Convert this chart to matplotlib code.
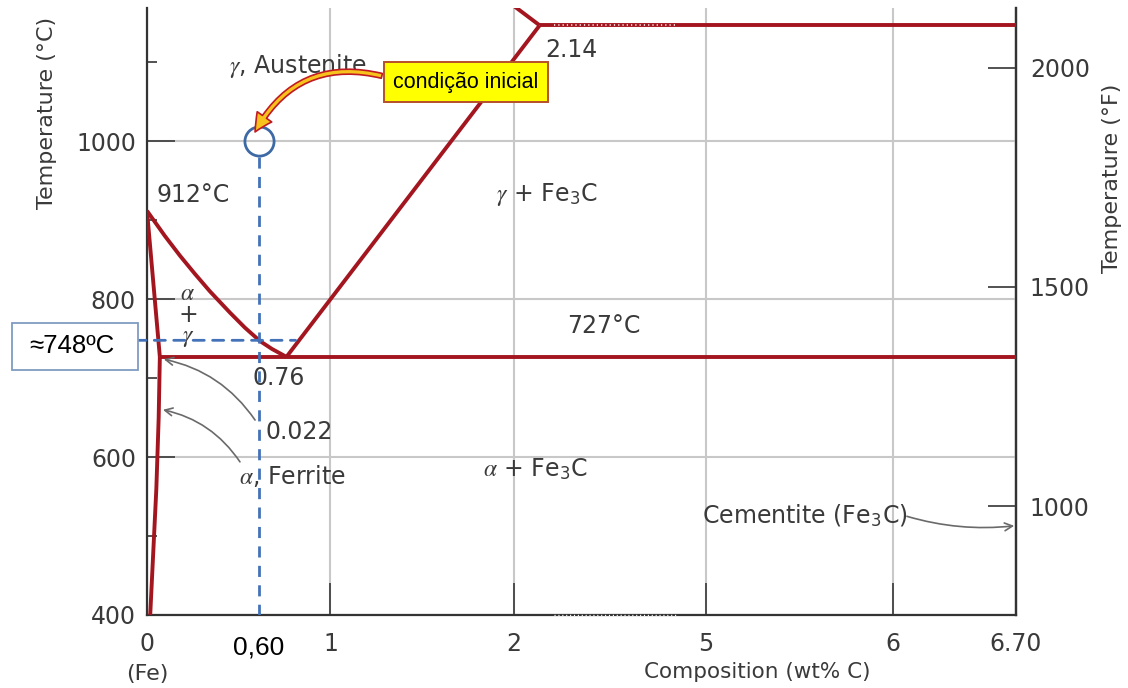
import numpy as np
import matplotlib
matplotlib.use("Agg")
import matplotlib.pyplot as plt
from matplotlib.patches import Rectangle

plt.rcParams["font.family"] = ["DejaVu Sans"]
plt.rcParams["mathtext.fontset"] = "stix"

# ---- phase boundaries (composition wt% C, temperature °C) ----
alpha_gamma_comp = [0.0, 0.022]
alpha_gamma_temp = [912, 727]

ferrite_solvus_comp = [0.022, 0.020, 0.016, 0.0055]
ferrite_solvus_temp = [727, 650, 560, 400]

a3_comp = [0.0, 0.052, 0.140, 0.227, 0.314, 0.431, 0.518, 0.606, 0.676, 0.76]
a3_temp = [912, 880, 855, 832, 810, 783, 764, 747, 737, 727]

acm_comp = [0.76, 2.14]
acm_temp = [727, 1147]

solidus_comp = [2.14, 1.90]
solidus_temp = [1147, 1189]

eutectoid_comp = [0.022, 6.70]
eutectoid_temp = [727, 727]

eutectic_comp = [2.14, 6.70]
eutectic_temp = [1147, 1147]

# ---- alloy of interest ----
alloy_comp = 0.60
start_temp = 1000
transform_temp = 748

# ---- axis ticks ----
x_ticks = [0, 1, 2, 5, 6, 6.70]
x_tick_labels = ["0", "1", "2", "5", "6", "6.70"]
y_major = [400, 600, 800, 1000]
y_minor = [500, 700, 900, 1100]
f_ticks = [1000, 1500, 2000]

# composition axis is stretched near pure iron and compressed over 2.2-5 wt%
COMP_KNOTS = np.array([0.0, 0.022, 0.76, 2.20, 5.0, 6.0, 6.70])
POS_KNOTS = np.array([0.0, 0.070, 0.76, 2.20, 3.046, 4.065, 4.736])


def _piecewise(v, xs, ys):
    v = np.asarray(v, dtype=float)
    out = np.interp(v, xs, ys)
    lo_slope = (ys[1] - ys[0]) / (xs[1] - xs[0])
    hi_slope = (ys[-1] - ys[-2]) / (xs[-1] - xs[-2])
    out = np.where(v < xs[0], ys[0] + (v - xs[0]) * lo_slope, out)
    out = np.where(v > xs[-1], ys[-1] + (v - xs[-1]) * hi_slope, out)
    return out


def comp_to_pos(v):
    return _piecewise(v, COMP_KNOTS, POS_KNOTS)


def pos_to_comp(v):
    return _piecewise(v, POS_KNOTS, COMP_KNOTS)


def c_to_f(t):
    return np.asarray(t, dtype=float) * 9.0 / 5.0 + 32.0


def f_to_c(t):
    return (np.asarray(t, dtype=float) - 32.0) * 5.0 / 9.0


RED = "#a3161f"
BLUE = "#4472b8"
GRID = "#c8c8c8"
SPINE = "#333333"
TXT = "#3a3a3a"

fig = plt.figure(figsize=(11.28, 6.88), dpi=100)
ax = fig.add_axes([147 / 1128, 1 - 615 / 688, 869 / 1128, 607 / 688])
ax.set_xscale("function", functions=(comp_to_pos, pos_to_comp))
ax.set_xlim(0, 6.70)
ax.set_ylim(400, 1169)

# grid and frame
ax.set_xticks(x_ticks)
ax.set_xticklabels(x_tick_labels)
ax.set_yticks(y_major)
ax.set_yticks(y_minor, minor=True)
ax.xaxis.set_minor_locator(matplotlib.ticker.NullLocator())
ax.grid(True, which="major", color=GRID, lw=1.5, zorder=0)
ax.set_axisbelow(True)
for side in ("left", "bottom", "right"):
    ax.spines[side].set_color(SPINE)
    ax.spines[side].set_linewidth(1.6)
ax.spines["top"].set_visible(False)
ax.tick_params(axis="x", which="major", direction="in", length=23, width=1.3,
               color="#444444", labelsize=17, labelcolor=TXT, pad=12)
ax.tick_params(axis="y", which="major", direction="in", length=20, width=1.3,
               color="#444444", labelsize=17, labelcolor=TXT, pad=8)
ax.tick_params(axis="y", which="minor", direction="in", length=7, width=1.3,
               color="#444444")

ax.set_ylabel("Temperature (°C)", fontsize=16, color=TXT)
ax.yaxis.set_label_coords(-0.103, 0.827)
ax.set_xlabel("Composition (wt% C)", fontsize=15.5, color=TXT)
ax.xaxis.set_label_coords(0.702, -0.077)

secax = ax.secondary_yaxis("right", functions=(c_to_f, f_to_c))
secax.set_yticks(f_ticks)
secax.spines["right"].set_color(SPINE)
secax.spines["right"].set_linewidth(1.6)
secax.tick_params(axis="y", which="major", direction="in", length=20, width=1.3,
                  color="#444444", labelsize=17, labelcolor=TXT, pad=10)
secax.yaxis.set_minor_locator(matplotlib.ticker.NullLocator())
ax.text(1.110, 0.72, "Temperature (°F)", transform=ax.transAxes, rotation=90,
        ha="center", va="center", fontsize=16, color=TXT)

# phase boundaries
line_kw = dict(color=RED, lw=2.8, solid_capstyle="butt", solid_joinstyle="round", zorder=3)
ax.plot(alpha_gamma_comp, alpha_gamma_temp, **line_kw)
ax.plot(ferrite_solvus_comp, ferrite_solvus_temp, **line_kw)
ax.plot(a3_comp, a3_temp, **line_kw)
ax.plot(acm_comp, acm_temp, **line_kw)
ax.plot(solidus_comp, solidus_temp, **line_kw)
ax.plot(eutectoid_comp, eutectoid_temp, **line_kw)
ax.plot(eutectic_comp, eutectic_temp, **line_kw)

# broken-axis marks over the compressed span
ax.plot([2.26, 4.46], [1147, 1147], color="white", lw=1.1, ls=(0, (0.8, 2.0)), zorder=4)
ax.plot([2.26, 4.46], [400, 400], color="white", lw=1.0, ls=(0, (0.8, 2.0)),
        zorder=5, clip_on=False)

# region and point labels
tkw = dict(fontsize=17, color=TXT, ha="center", va="center", zorder=6)
ax.text(0.823, 1095, r"$\gamma$, Austenite", **tkw)
ax.text(0.216, 932, "912°C", **tkw)
ax.text(0.186, 808, r"$\alpha$", **tkw)
ax.text(0.186, 780, "+", **tkw)
ax.text(0.186, 752, r"$\gamma$", **tkw)
ax.text(0.716, 700, "0.76", **tkw)
ax.text(0.828, 632, "0.022", **tkw)
ax.text(0.79, 576, r"$\alpha$, Ferrite", **tkw)
ax.text(3.16, 766, "727°C", **tkw)
ax.text(2.58, 1116, "2.14", **tkw)
ax.text(2.18, 933, r"$\gamma$ + Fe$_{\mathregular{3}}$C", **tkw)
ax.text(2.12, 584, r"$\alpha$ + Fe$_{\mathregular{3}}$C", **tkw)
ax.text(5.53, 527, r"Cementite (Fe$_{\mathregular{3}}$C)", **tkw)

xax_tr = ax.get_xaxis_transform()
ax.text(0.0, -0.097, "(Fe)", transform=xax_tr, ha="center", va="center",
        fontsize=16, color=TXT)
ax.text(alloy_comp, -0.054, "0,60", transform=xax_tr, ha="center", va="center",
        fontsize=19, color="black", family="Liberation Sans")

# pointer arrows
gray_arrow = dict(arrowstyle="->", color="#6a6a6a", lw=1.2, shrinkA=0, shrinkB=0,
                  mutation_scale=14)
ax.annotate("", xy=(0.045, 724), xytext=(0.577, 647),
            arrowprops=dict(connectionstyle="arc3,rad=0.2", **gray_arrow), zorder=5)
ax.annotate("", xy=(0.040, 660), xytext=(0.489, 594),
            arrowprops=dict(connectionstyle="arc3,rad=0.2", **gray_arrow), zorder=5)
ax.annotate("", xy=(6.69, 513), xytext=(6.08, 525),
            arrowprops=dict(connectionstyle="arc3,rad=0.1", **gray_arrow), zorder=5)

# alloy path: initial condition and cooling line
ax.plot([alloy_comp], [start_temp], marker="o", ms=21, mfc="none", mec="#3d6aa5",
        mew=2.0, zorder=6)
ax.plot([alloy_comp, alloy_comp], [start_temp - 20, 400], color=BLUE, lw=2.0,
        ls=(0, (4, 3)), zorder=4)
ax.annotate("", xy=(0.81, transform_temp), xycoords="data",
            xytext=(-0.014, transform_temp), textcoords=("axes fraction", "data"),
            arrowprops=dict(arrowstyle="-", color=BLUE, lw=2.0, linestyle=(0, (4, 3)),
                            shrinkA=0, shrinkB=0), zorder=4)

# temperature read-out box beside the axis
ytr = ax.get_yaxis_transform()
ax.add_patch(Rectangle((-0.1553, 710.5), 0.1449, 59.5, transform=ytr, fc="white",
                       ec="#7f9cc0", lw=1.3, zorder=7, clip_on=False))
ax.text(-0.087, 741, "≈748ºC", transform=ytr, ha="center", va="center", fontsize=18.5,
        color="black", family="Liberation Sans", zorder=8, clip_on=False)

ax.annotate("", xy=(0.577, 1012), xytext=(1.28, 1083),
            arrowprops=dict(arrowstyle="simple,head_length=0.8,head_width=0.8,tail_width=0.22",
                            connectionstyle="arc3,rad=0.38", fc="#f7c21c", ec="#c01a22",
                            lw=1.2, mutation_scale=16, shrinkA=0, shrinkB=0),
            zorder=7)
ax.text(1.738, 1075, "condição inicial", ha="center", va="center", fontsize=15.5,
        color="black", family="Liberation Sans", zorder=8,
        bbox=dict(boxstyle="square,pad=0.45", fc="#ffff00", ec="#b5502a", lw=1.4))

fig.savefig("out.png", dpi=100)
